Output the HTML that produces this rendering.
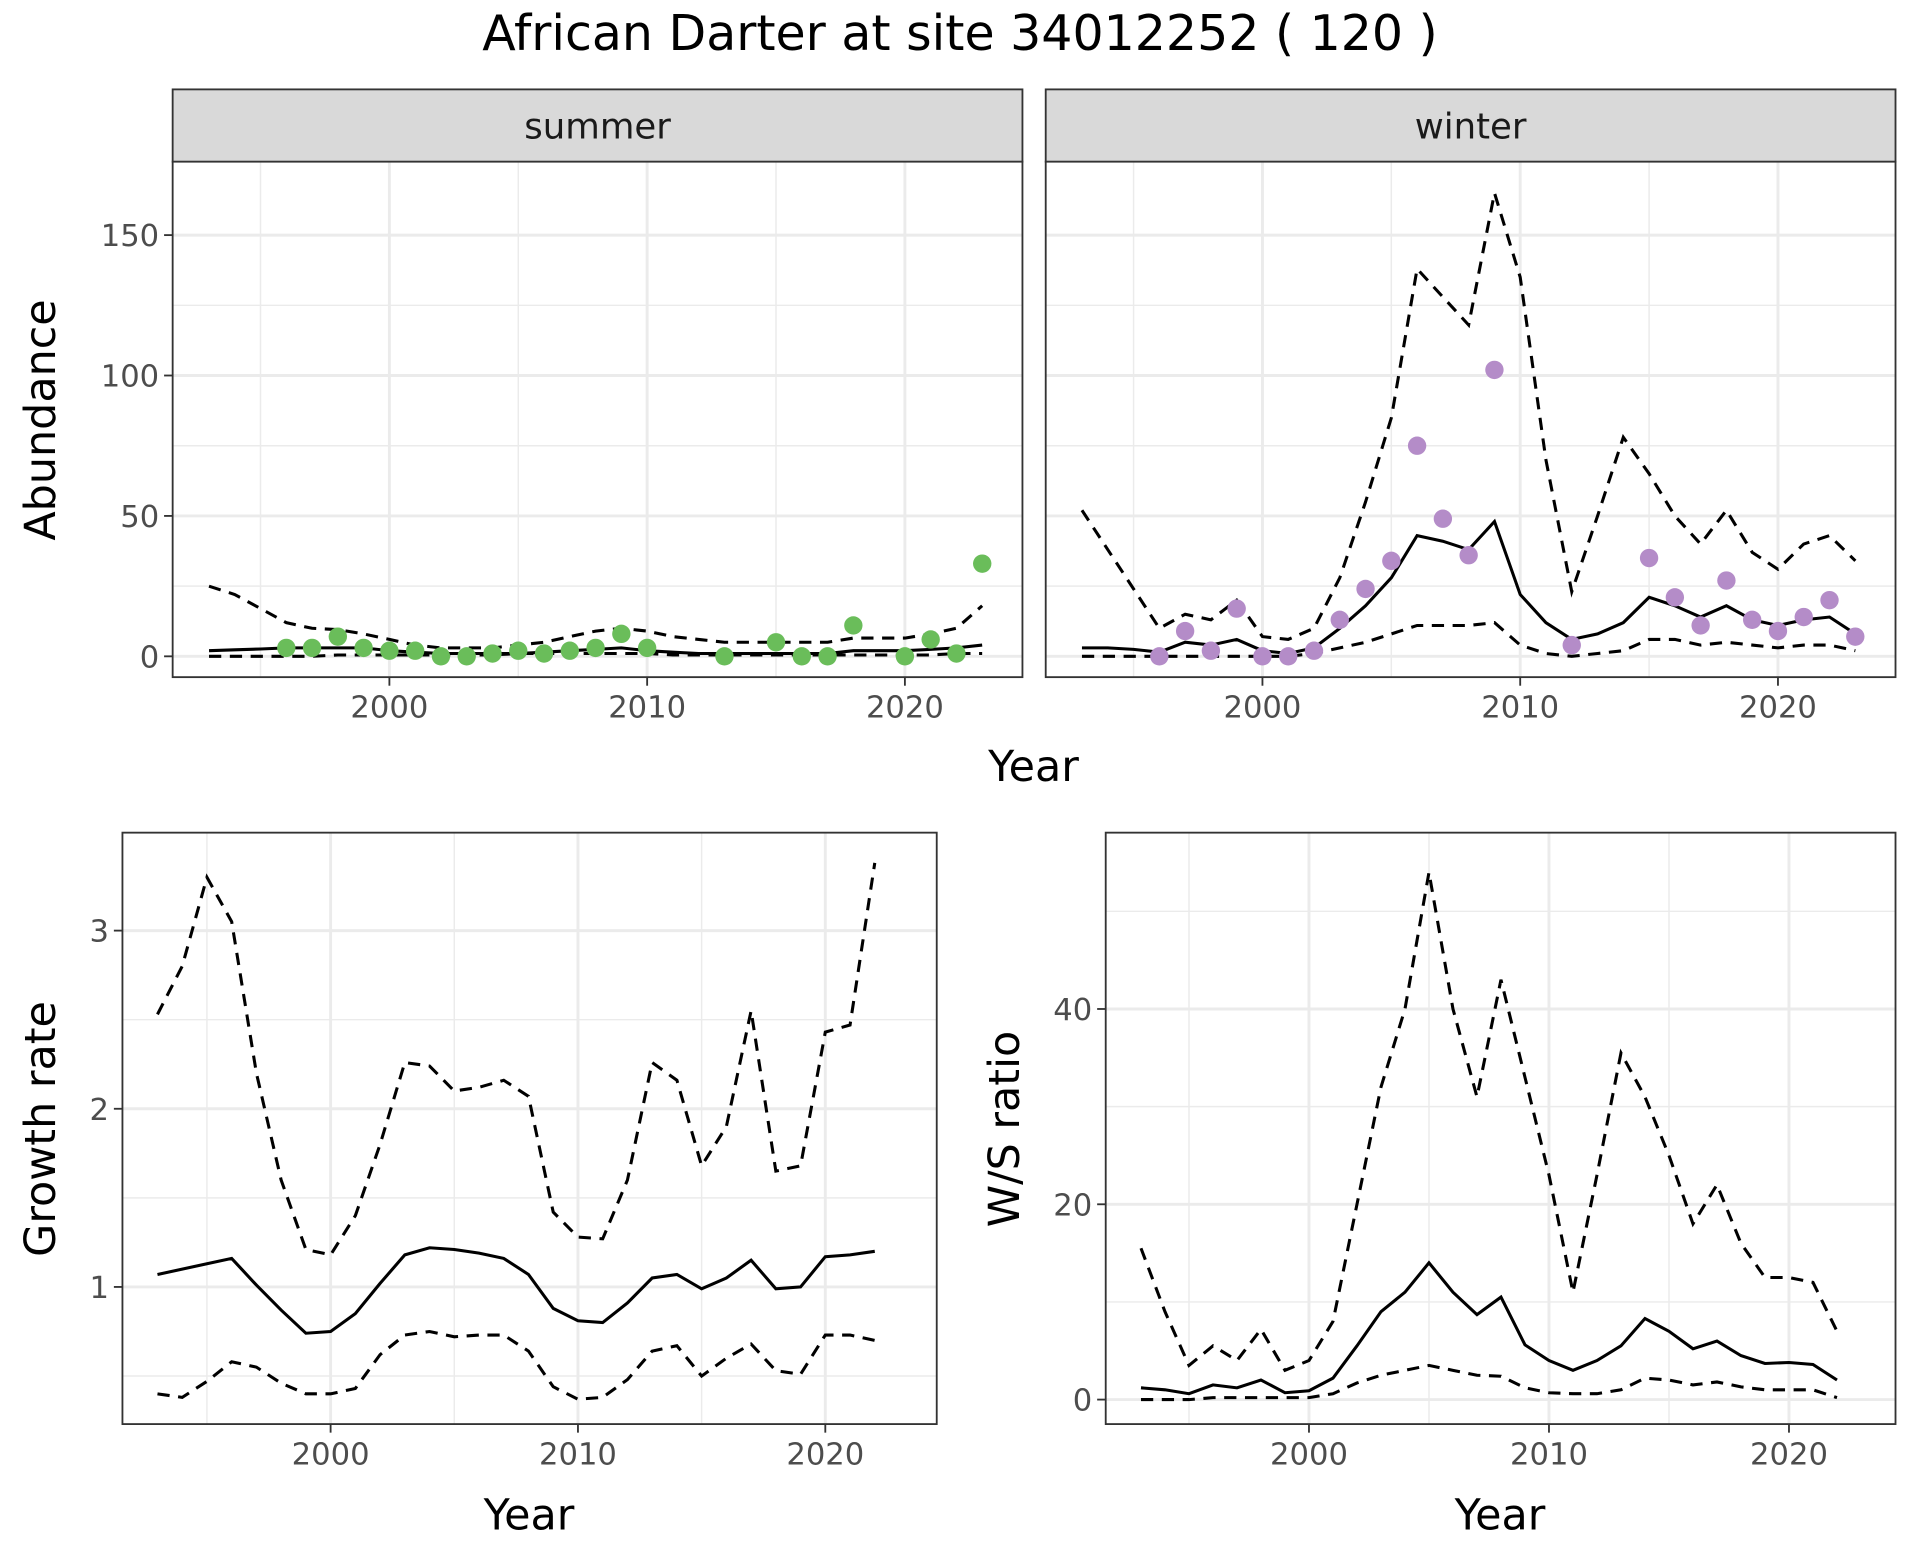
<!DOCTYPE html>
<html><head><meta charset="utf-8"><style>
html,body{margin:0;padding:0;background:#fff;}
svg{display:block;font-family:"DejaVu Sans","Liberation Sans",sans-serif;}
</style></head><body>
<svg id="chart" width="1920" height="1560" viewBox="0 0 1568 1274" xmlns="http://www.w3.org/2000/svg">
<text x="784" y="41" text-anchor="middle" font-size="40" fill="#000">African Darter at site 34012252 ( 120 )</text>
</svg>
<script>
const years = [1993,1994,1995,1996,1997,1998,1999,2000,2001,2002,2003,2004,2005,2006,2007,2008,2009,2010,2011,2012,2013,2014,2015,2016,2017,2018,2019,2020,2021,2022,2023];
const summerMean = [2,2.3,2.6,3,3,3,3,2,1.5,1,1,1,1,1.5,2,2.5,3,2,1.5,1,1,1,1,1,1,2,2,2,2.5,3,4];
const summerUpper = [25,22,17,12,10,9.5,8,6,4,3,3,3,4,5,7,9,10,9,7,6,5,5,5,5,5,6.5,6.5,6.5,8,10,18];
const summerLower = [0,0,0,0,0,0.5,0.5,0.5,0.5,0.5,0.5,0.5,1,1,1,1,1,1,0.5,0.5,0.5,0.5,0.5,0.5,0.5,0.5,0.5,0.5,0.5,1,1];
const summerObsYears = [1996,1997,1998,1999,2000,2001,2002,2003,2004,2005,2006,2007,2008,2009,2010,2013,2015,2016,2017,2018,2020,2021,2022,2023];
const summerObs = [3,3,7,3,2,2,0,0,1,2,1,2,3,8,3,0,5,0,0,11,0,6,1,33];
const winterMean = [3,3,2.5,1.5,5,4,6,2,1,3,10,18,28,43,41,38,48,22,12,6,8,12,21,18,14,18,13,11,13,14,8];
const winterUpper = [52,38,24,10,15,13,20,7,6,10,28,55,85,138,128,118,165,135,70,23,50,78,65,50,40,52,37,31,40,43,34];
const winterLower = [0,0,0,0,0,0,0,0,0,1,3,5,8,11,11,11,12,4,1,0,1,2,6,6,4,5,4,3,4,4,2];
const winterObsYears = [1996,1997,1998,1999,2000,2001,2002,2003,2004,2005,2006,2007,2008,2009,2012,2015,2016,2017,2018,2019,2020,2021,2022,2023];
const winterObs = [0,9,2,17,0,0,2,13,24,34,75,49,36,102,4,35,21,11,27,13,9,14,20,7];
const grYears = [1993,1994,1995,1996,1997,1998,1999,2000,2001,2002,2003,2004,2005,2006,2007,2008,2009,2010,2011,2012,2013,2014,2015,2016,2017,2018,2019,2020,2021,2022];
const grMean = [1.07,1.10,1.13,1.16,1.01,0.87,0.74,0.75,0.85,1.02,1.18,1.22,1.21,1.19,1.16,1.07,0.88,0.81,0.80,0.91,1.05,1.07,0.99,1.05,1.15,0.99,1.00,1.17,1.18,1.20];
const grUpper = [2.53,2.80,3.30,3.05,2.20,1.60,1.21,1.18,1.40,1.80,2.26,2.24,2.10,2.12,2.16,2.07,1.42,1.28,1.27,1.60,2.26,2.16,1.68,1.90,2.55,1.65,1.68,2.43,2.47,3.38];
const grLower = [0.40,0.38,0.47,0.58,0.55,0.46,0.40,0.40,0.43,0.62,0.73,0.75,0.72,0.73,0.73,0.64,0.44,0.37,0.38,0.48,0.64,0.67,0.50,0.60,0.68,0.53,0.51,0.73,0.73,0.70];
const wsMean = [1.2,1,0.6,1.5,1.2,2,0.7,0.9,2.2,5.5,9,11,14,11,8.7,10.5,5.6,4,3,4,5.5,8.3,7,5.2,6,4.5,3.7,3.8,3.6,2];
const wsUpper = [15.5,9,3.5,5.5,4,7.2,3,4,8,20,32,40,54,40,31,43,33,23,11,23,35.5,31,25,18,22,16,12.5,12.5,12,7];
const wsLower = [0,0,0,0.2,0.2,0.2,0.2,0.2,0.6,1.7,2.5,3,3.5,3,2.5,2.4,1.2,0.7,0.6,0.6,1,2.2,2,1.5,1.8,1.3,1,1,1,0.2];
const xTicks = [2000,2010,2020];

const NS='http://www.w3.org/2000/svg';
const svg=document.getElementById('chart');
function mk(tag,attrs,parent){const e=document.createElementNS(NS,tag);for(const k in attrs)e.setAttribute(k,attrs[k]);(parent||svg).appendChild(e);return e;}
function lin(d0,d1,r0,r1){return v=>r0+(v-d0)*(r1-r0)/(d1-d0);}

function panelA(p){
  const g=mk('g',{});
  
  
  const x=lin(2000,2020,p.px2000,p.px2020), y=lin(p.ya[0],p.ya[1],p.ypx[0],p.ypx[1]);
  for(const v of p.xMinor){const l=mk('line',{x1:x(v),x2:x(v),y1:p.y0,y2:p.y1,stroke:'#ebebeb','stroke-width':1.2},g);}
  for(const v of p.yMinor){const l=mk('line',{x1:p.x0,x2:p.x1,y1:y(v),y2:y(v),stroke:'#ebebeb','stroke-width':1.2},g);}
  for(const v of xTicks){const l=mk('line',{x1:x(v),x2:x(v),y1:p.y0,y2:p.y1,stroke:'#ebebeb','stroke-width':2.4},g);}
  for(const v of p.yTicks){const l=mk('line',{x1:p.x0,x2:p.x1,y1:y(v),y2:y(v),stroke:'#ebebeb','stroke-width':2.4},g);}
  const cp='c'+p.name;
  const cl=mk('clipPath',{id:cp},g);mk('rect',{x:p.x0,y:p.y0,width:p.x1-p.x0,height:p.y1-p.y0},cl);
  function line(xs,ys,dash,nm){const d=xs.map((v,i)=>(i?'L':'M')+x(v).toFixed(1)+','+y(ys[i]).toFixed(1)).join('');const l=mk('path',{d:d,fill:'none',stroke:'#000','stroke-width':2.5,'stroke-dasharray':dash?'10,7':'none','clip-path':'url(#'+cp+')'},g);}
  line(p.xs,p.upper,true,'upper-bound-line');
  line(p.xs,p.lower,true,'lower-bound-line');
  line(p.xs,p.mean,false,'mean-line');
  if(p.obs){for(let i=0;i<p.obs.length;i++){const c=mk('circle',{cx:x(p.obsYears[i]),cy:y(p.obs[i]),r:7.5,fill:p.col},g);}}
  const fr=mk('rect',{x:p.x0,y:p.y0,width:p.x1-p.x0,height:p.y1-p.y0,fill:'none',stroke:'#333','stroke-width':1.5},g);
  for(const v of xTicks){const xx=x(v);mk('line',{x1:xx,x2:xx,y1:p.y1,y2:p.y1+7,stroke:'#333','stroke-width':1.5},g);const t=mk('text',{x:xx,y:p.y1+33,'text-anchor':'middle','font-size':25,fill:'#4d4d4d'},g);t.textContent=v;}
  if(p.showY){for(const v of p.yTicks){const yy=y(v);mk('line',{x1:p.x0-7,x2:p.x0,y1:yy,y2:yy,stroke:'#333','stroke-width':1.5},g);const t=mk('text',{x:p.x0-11,y:yy+9,'text-anchor':'end','font-size':25,fill:'#4d4d4d'},g);t.textContent=v;}}
  if(p.strip){const s=mk('rect',{x:p.x0,y:73,width:p.x1-p.x0,height:p.y0-73,fill:'#d9d9d9',stroke:'#333','stroke-width':1.5},g);const t=mk('text',{x:(p.x0+p.x1)/2,y:113,'text-anchor':'middle','font-size':29,fill:'#1a1a1a'},g);t.textContent=p.strip;}
}
panelA({name:'summer-panel',x0:141,x1:835,y0:132,y1:553,px2000:318,px2020:739,ya:[0,150],ypx:[536,192],xs:years,mean:summerMean,upper:summerUpper,lower:summerLower,obs:summerObs,obsYears:summerObsYears,col:'#6abd5a',yTicks:[0,50,100,150],yMinor:[25,75,125],xMinor:[1995,2005,2015],showY:true,strip:'summer'});
panelA({name:'winter-panel',x0:854,x1:1548,y0:132,y1:553,px2000:1031,px2020:1452,ya:[0,150],ypx:[536,192],xs:years,mean:winterMean,upper:winterUpper,lower:winterLower,obs:winterObs,obsYears:winterObsYears,col:'#b48cc8',yTicks:[0,50,100,150],yMinor:[25,75,125],xMinor:[1995,2005,2015],showY:false,strip:'winter'});
panelA({name:'growth-rate-panel',x0:100,x1:765,y0:680,y1:1163,px2000:270,px2020:674,ya:[1,3],ypx:[1051,760],xs:grYears,mean:grMean,upper:grUpper,lower:grLower,yTicks:[1,2,3],yMinor:[0.5,1.5,2.5],xMinor:[1995,2005,2015],showY:true});
panelA({name:'ws-ratio-panel',x0:903,x1:1548,y0:680,y1:1163,px2000:1069,px2020:1461,ya:[0,40],ypx:[1143,824],xs:grYears,mean:wsMean,upper:wsUpper,lower:wsLower,yTicks:[0,20,40],yMinor:[10,30,50],xMinor:[1995,2005,2015],showY:true});
function label(txt,x,y,rot,nm){const t=mk('text',{x:x,y:y,'text-anchor':'middle','font-size':35,fill:'#000'});if(rot)t.setAttribute('transform','rotate(-90 '+x+' '+y+')');t.textContent=txt;}
label('Year',844,638,false,'top-x-axis-title');
label('Abundance',45,343,true,'top-y-axis-title');
label('Year',432,1249,false,'growth-x-axis-title');
label('Growth rate',45,922,true,'growth-y-axis-title');
label('Year',1225,1249,false,'ws-x-axis-title');
label('W/S ratio',832,922,true,'ws-y-axis-title');
</script>
</body></html>
